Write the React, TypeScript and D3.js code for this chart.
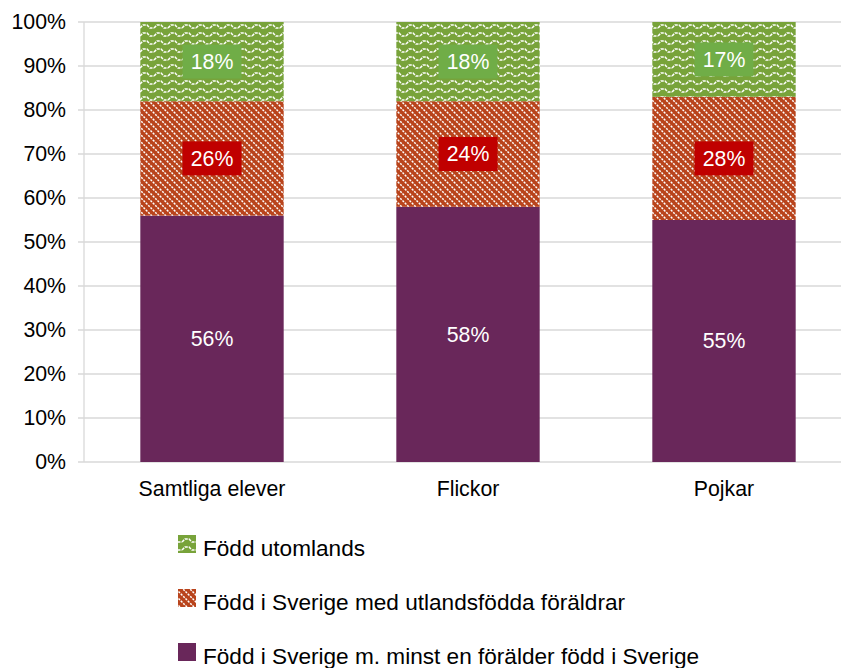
import { useEffect, useRef } from 'react';
import * as d3 from 'd3';

const categories = ['Samtliga elever', 'Flickor', 'Pojkar'];
const seriesNames = [
  'Född i Sverige m. minst en förälder född i Sverige',
  'Född i Sverige med utlandsfödda föräldrar',
  'Född utomlands',
];
const sverigeForalder = [56, 58, 55];
const utlandsForaldrar = [26, 24, 28];
const utomlands = [18, 18, 17];
const yTicks = [0, 10, 20, 30, 40, 50, 60, 70, 80, 90, 100];

const FONT = 'Liberation Sans, Arial, sans-serif';
const FS = 21.3;
const LEG_FS = 22.6;

export default function App() {
  const ref = useRef<SVGSVGElement>(null);

  useEffect(() => {
    const W = 841;
    const H = 668;
    const margin = { top: 22, left: 84, bottom: 206 };
    const plotW = 768;
    const plotH = H - margin.top - margin.bottom;

    const svg = d3.select(ref.current);
    svg.selectAll('*').remove();
    svg.attr('width', W).attr('height', H);

    const defs = svg.append('defs');
    // wave pattern (green)
    const wave = defs.append('pattern')
      .attr('id', 'wave').attr('patternUnits', 'userSpaceOnUse')
      .attr('width', 14).attr('height', 8);
    wave.append('rect').attr('width', 14).attr('height', 8).attr('fill', '#78A33A');
    wave.append('path')
      .attr('d', 'M0,6 L3,3 L7,3 L10,6 L14,6')
      .attr('fill', 'none').attr('stroke', '#fff').attr('stroke-width', 1.5)
      .attr('stroke-dasharray', '3,1');
    // diagonal pattern (red/orange)
    const diag = defs.append('pattern')
      .attr('id', 'diag').attr('patternUnits', 'userSpaceOnUse')
      .attr('width', 7).attr('height', 7);
    diag.append('rect').attr('width', 7).attr('height', 7).attr('fill', '#B9441C');
    diag.append('path')
      .attr('d', 'M-1,-1 L8,8 M-1,6 L1,8 M6,-1 L8,1')
      .attr('stroke', '#fff').attr('stroke-width', 1.5)
      .attr('stroke-dasharray', '2,1.2');

    const fills = ['#69275A', 'url(#diag)', 'url(#wave)'];

    const g = svg.append('g').attr('transform', `translate(${margin.left},${margin.top})`);

    const x = d3.scaleBand().domain(categories).range([0, plotW]).paddingInner(0.44).paddingOuter(0.22);
    const y = d3.scaleLinear().domain([0, 100]).range([plotH, 0]);

    // gridlines
    g.selectAll('.grid').data(yTicks).enter().append('line')
      .attr('x1', -6).attr('x2', plotW)
      .attr('y1', d => y(d)).attr('y2', d => y(d))
      .attr('stroke', '#D9D9D9').attr('stroke-width', 1.3);
    g.append('line').attr('x1', 0).attr('x2', 0).attr('y1', 0).attr('y2', plotH)
      .attr('stroke', '#D9D9D9').attr('stroke-width', 1.3);

    g.selectAll('.ytick').data(yTicks).enter().append('text')
      .attr('x', -18).attr('y', d => y(d)).attr('dy', '0.35em')
      .attr('text-anchor', 'end').attr('font-family', FONT).attr('font-size', FS)
      .attr('fill', '#000').text(d => `${d}%`);

    const rows = categories.map((c, i) => ({ cat: c, vals: [sverigeForalder[i], utlandsForaldrar[i], utomlands[i]] }));
    const stack = d3.stack<any>().keys(['0', '1', '2']).value((d, k) => d.vals[+k]);
    const stacked = stack(rows);

    stacked.forEach((layer, li) => {
      layer.forEach((seg, ci) => {
        const cat = categories[ci];
        const x0 = x(cat)!;
        const y0 = y(seg[1]);
        const h = y(seg[0]) - y(seg[1]);
        g.append('rect').attr('x', x0).attr('y', y0).attr('width', x.bandwidth()).attr('height', h)
          .attr('fill', fills[li]);
        const cx = x0 + x.bandwidth() / 2;
        const cy = y0 + h / 2;
        const label = `${rows[ci].vals[li]}%`;
        if (li > 0) {
          g.append('rect').attr('x', cx - 29.5).attr('y', cy - 17).attr('width', 59).attr('height', 34)
            .attr('fill', li === 1 ? '#C00000' : '#70AD47');
        }
        g.append('text').attr('x', cx).attr('y', cy).attr('dy', '0.35em')
          .attr('text-anchor', 'middle').attr('font-family', FONT).attr('font-size', FS)
          .attr('fill', '#fff').text(label);
      });
    });

    g.selectAll('.xlab').data(categories).enter().append('text')
      .attr('x', d => x(d)! + x.bandwidth() / 2).attr('y', plotH + 27).attr('dy', '0.35em')
      .attr('text-anchor', 'middle').attr('font-family', FONT).attr('font-size', FS)
      .attr('fill', '#000').text(d => d);

    // legend
    const legendOrder = [2, 1, 0];
    const leg = svg.append('g');
    legendOrder.forEach((si, i) => {
      const ly = 548 + i * 54;
      leg.append('rect').attr('x', 178).attr('y', ly - 13).attr('width', 18).attr('height', 18)
        .attr('fill', fills[si]);
      leg.append('text').attr('x', 203).attr('y', ly).attr('dy', '0.35em')
        .attr('font-family', FONT).attr('font-size', LEG_FS).attr('fill', '#000')
        .text(seriesNames[si]);
    });
  }, []);

  return <svg ref={ref} style={{ position: 'absolute', left: 0, top: 0 }} />;
}
